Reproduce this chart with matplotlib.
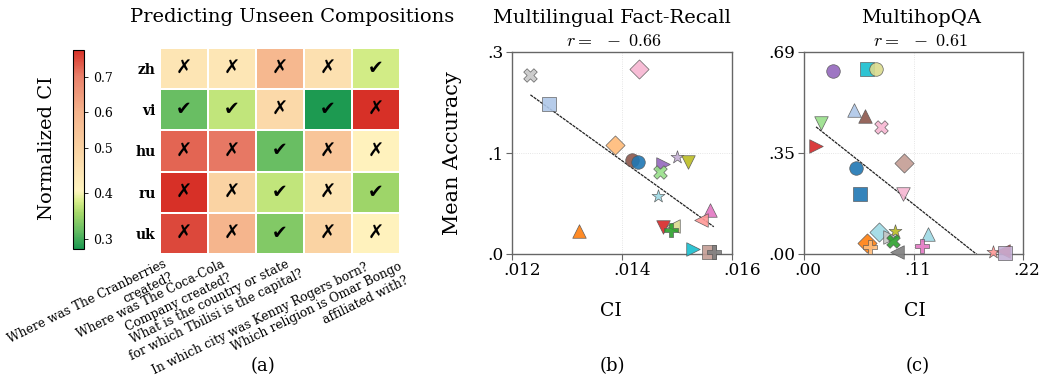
import numpy as np
import matplotlib
matplotlib.use("Agg")
import matplotlib.pyplot as plt
import matplotlib.colors as mcolors
import matplotlib.transforms as mtransforms

plt.rcParams['font.family'] = ['DejaVu Serif']
plt.rcParams['mathtext.fontset'] = 'cm'

# ---- (a) heatmap data ----
langs = ['zh', 'vi', 'hu', 'ru', 'uk']
questions = [
    'Where was The Cranberries\ncreated?',
    'Where was The Coca-Cola\nCompany created?',
    'What is the country or state\nfor which Tbilisi is the capital?',
    'In which city was Kenny Rogers born?',
    'Which religion is Omar Bongo\naffiliated with?',
]
norm_ci = [
    [0.447, 0.445, 0.585, 0.460, 0.379],
    [0.318, 0.369, 0.478, 0.280, 0.775],
    [0.725, 0.708, 0.318, 0.540, 0.412],
    [0.773, 0.495, 0.369, 0.447, 0.351],
    [0.753, 0.595, 0.334, 0.495, 0.412],
]
# v = correct, x = wrong
correct = ['xxxxv', 'vvxvx', 'xxvxx', 'xxvxv', 'xxvxx']

# ---- (b) multilingual fact-recall ----
b_ci = [0.01234, 0.01268, 0.01431, 0.01388, 0.01419, 0.01430, 0.01475, 0.01500,
        0.01520, 0.01469, 0.01466, 0.01560, 0.01543, 0.01474, 0.01492, 0.01489,
        0.01322, 0.01530, 0.01559, 0.01567]
b_acc = [0.230, 0.193, 0.238, 0.140, 0.121, 0.118, 0.116, 0.125, 0.119, 0.105,
         0.075, 0.057, 0.044, 0.035, 0.036, 0.031, 0.030, 0.007, 0.003, 0.002]
b_r = -0.66

# ---- (c) multihop QA ----
c_ci = [0.0294, 0.0630, 0.0723, 0.0505, 0.0613, 0.0171, 0.0770, 0.0121, 0.1005,
        0.0522, 0.0559, 0.0998, 0.0757, 0.0917, 0.0864, 0.0891, 0.1243, 0.0636,
        0.0663, 0.1182, 0.0931, 0.1902, 0.2003, 0.2020]
c_acc = [0.626, 0.632, 0.632, 0.492, 0.471, 0.446, 0.435, 0.369, 0.312, 0.293,
         0.204, 0.205, 0.074, 0.080, 0.059, 0.045, 0.067, 0.039, 0.023, 0.028,
         0.008, 0.008, 0.011, 0.002]
c_r = -0.61

# styles
b_markers = ['X', 's', 'D', 'D', 'o', 'o', '>', '*', 'v', 'X',
             '*', '^', '<', 'v', '<', 'P', '^', '>', 's', 'P']
b_colors = ['#c7c7c7', '#aec7e8', '#f7b6d2', '#ffbb78', '#8c564b', '#1f77b4',
            '#9467bd', '#c5b0d5', '#bcbd22', '#98df8a', '#9edae5', '#e377c2',
            '#ff9896', '#d62728', '#dbdb8d', '#2ca02c', '#ff7f0e', '#17becf',
            '#c49c94', '#7f7f7f']
c_markers = ['o', 's', 'o', '^', '^', 'v', 'X', '>', 'D', 'o', 's', 'v',
             'D', '*', '>', 'X', '^', 'D', 'P', 'P', '<', '*', '<', 's']
c_colors = ['#9467bd', '#17becf', '#dbdb8d', '#aec7e8', '#8c564b', '#98df8a',
            '#f7b6d2', '#d62728', '#c49c94', '#1f77b4', '#1f77b4', '#f7b6d2',
            '#9edae5', '#bcbd22', '#c7c7c7', '#2ca02c', '#9edae5', '#ff7f0e',
            '#ffbb78', '#e377c2', '#7f7f7f', '#ff9896', '#d62728', '#c5b0d5']

W, H = 1042, 377
fig = plt.figure(figsize=(W / 100, H / 100), dpi=100)


def box(x0, y0, x1, y1):
    # pixel box -> figure fraction
    return [x0 / W, 1 - y1 / H, (x1 - x0) / W, (y1 - y0) / H]


# ---------------- (a) ----------------
cmap = mcolors.LinearSegmentedColormap.from_list('ci', [
    (0.00, '#1a9850'), (0.09, '#66bd63'), (0.18, '#a6d96a'), (0.24, '#d9ef8b'),
    (0.29, '#fff5bf'), (0.40, '#fde3b3'), (0.50, '#fad3a3'), (0.69, '#f5b38c'),
    (0.87, '#e9806a'), (1.00, '#d73027')])
norm = mcolors.TwoSlopeNorm(vmin=0.277, vcenter=0.495, vmax=0.775)

axh = fig.add_axes(box(160, 48, 400, 254))
mesh = axh.pcolormesh(np.array(norm_ci), cmap=cmap, norm=norm,
                      edgecolors='white', linewidth=1.2)
axh.set_xlim(0, len(questions))
axh.set_ylim(len(langs), 0)
for s in axh.spines.values():
    s.set_visible(False)
axh.set_yticks(np.arange(len(langs)) + 0.5)
axh.set_yticklabels(langs, fontweight='bold', fontsize=10)
axh.set_xticks([])
axh.tick_params(axis='y', length=0, pad=3)
for i in range(len(langs)):
    for j in range(len(questions)):
        if correct[i][j] == 'v':
            axh.text(j + 0.5, i + 0.5, '\u2714', ha='center', va='center',
                     fontsize=13.5, family='DejaVu Sans', color='black')
        else:
            axh.text(j + 0.5, i + 0.5, '\u2717', ha='center', va='center',
                     fontsize=14, family='DejaVu Sans', fontweight='bold',
                     color='black')

# question labels (pixel nudges to follow the original placement)
q_dx = [-21, -11, 13, 37, 22]
q_dy = [1, 2, -2, 5, 4]
q_align = ['right', 'right', 'center', 'right', 'right']
base = mtransforms.blended_transform_factory(axh.transData, axh.transAxes)
for j, q in enumerate(questions):
    off = mtransforms.ScaledTranslation(q_dx[j] / 100, -(q_dy[j] + 2) / 100,
                                        fig.dpi_scale_trans)
    axh.text(j + 0.5, 0, q, transform=base + off, rotation=26,
             rotation_mode='anchor', ha='right', va='top',
             multialignment=q_align[j], fontsize=8.8)

cax = fig.add_axes(box(73, 50, 84, 249))
cb = fig.colorbar(mesh, cax=cax)
cb.set_ticks([0.3, 0.4, 0.5, 0.6, 0.7])
cb.ax.tick_params(labelsize=9, length=3, width=0.6)
cb.outline.set_linewidth(0.8)
fig.text(47 / W, 1 - 148 / H, 'Normalized CI', rotation=90, ha='center',
         va='center', fontsize=14)
fig.text(292 / W, 1 - 17 / H, 'Predicting Unseen Compositions', ha='center',
         va='center', fontsize=14)
fig.text(263 / W, 1 - 366 / H, '(a)', ha='center', va='center', fontsize=13)


# ---------------- scatter panels ----------------
def scatter_panel(rect, xs, ys, markers, colors, xlim, ylim, xt, xtl, yt, ytl,
                  xshift):
    ax = fig.add_axes(rect)
    for x, y, m, c in zip(xs, ys, markers, colors):
        ax.scatter(x, y, marker=m, s=95, color=c, edgecolors='#555555',
                   linewidths=0.5, alpha=0.9, zorder=3, clip_on=False)
    k, b0 = np.polyfit(xs, ys, 1)
    lx = np.array([min(xs), max(xs)])
    ax.plot(lx, k * lx + b0, color='#222222', lw=0.9, ls=(0, (2.5, 0.7)),
            zorder=2)
    ax.set_xlim(*xlim)
    ax.set_ylim(*ylim)
    ax.set_xticks(xt)
    ax.set_xticklabels(xtl)
    ax.set_yticks(yt)
    ax.set_yticklabels(ytl)
    ax.grid(True, color='#dddddd', lw=0.6, ls=':')
    for s in ax.spines.values():
        s.set_color('#666666')
        s.set_linewidth(1.0)
    ax.tick_params(labelsize=12.2, length=4, width=0.8, color='#666666', pad=2)
    shift = mtransforms.ScaledTranslation(xshift / 100, 0, fig.dpi_scale_trans)
    for lab in ax.get_xticklabels():
        lab.set_transform(lab.get_transform() + shift)
    return ax


axb = scatter_panel(box(511.7, 52, 732, 254), b_ci, b_acc, b_markers, b_colors,
                    (0.012, 0.016), (0, 0.26),
                    [0.012, 0.014, 0.016], ['.012', '.014', '.016'],
                    [0, 0.13, 0.26], ['.0', '.1', '.3'], 10)
axc = scatter_panel(box(804, 52, 1023, 254), c_ci, c_acc, c_markers, c_colors,
                    (0, 0.22), (0, 0.69),
                    [0, 0.11, 0.22], ['.00', '.11', '.22'],
                    [0, 0.345, 0.69], ['.00', '.35', '.69'], 4)

fig.text(453 / W, 1 - 153 / H, 'Mean Accuracy', rotation=90, ha='center',
         va='center', fontsize=15)
fig.text(612 / W, 1 - 18 / H, 'Multilingual Fact-Recall', ha='center',
         va='center', fontsize=14)
fig.text(614 / W, 1 - 41 / H, r'$r=\;\;-\;%.2f$' % abs(b_r),
         ha='center', va='center', fontsize=13)
fig.text(921 / W, 1 - 18 / H, 'MultihopQA', ha='center', va='center',
         fontsize=14)
fig.text(920 / W, 1 - 41 / H, r'$r=\;\;-\;%.2f$' % abs(c_r),
         ha='center', va='center', fontsize=13)
fig.text(611 / W, 1 - 311 / H, 'CI', ha='center', va='center', fontsize=13.5)
fig.text(915 / W, 1 - 311 / H, 'CI', ha='center', va='center', fontsize=13.5)
fig.text(612 / W, 1 - 366 / H, '(b)', ha='center', va='center', fontsize=13)
fig.text(918 / W, 1 - 366 / H, '(c)', ha='center', va='center', fontsize=13)

fig.savefig('out.png', dpi=100)
